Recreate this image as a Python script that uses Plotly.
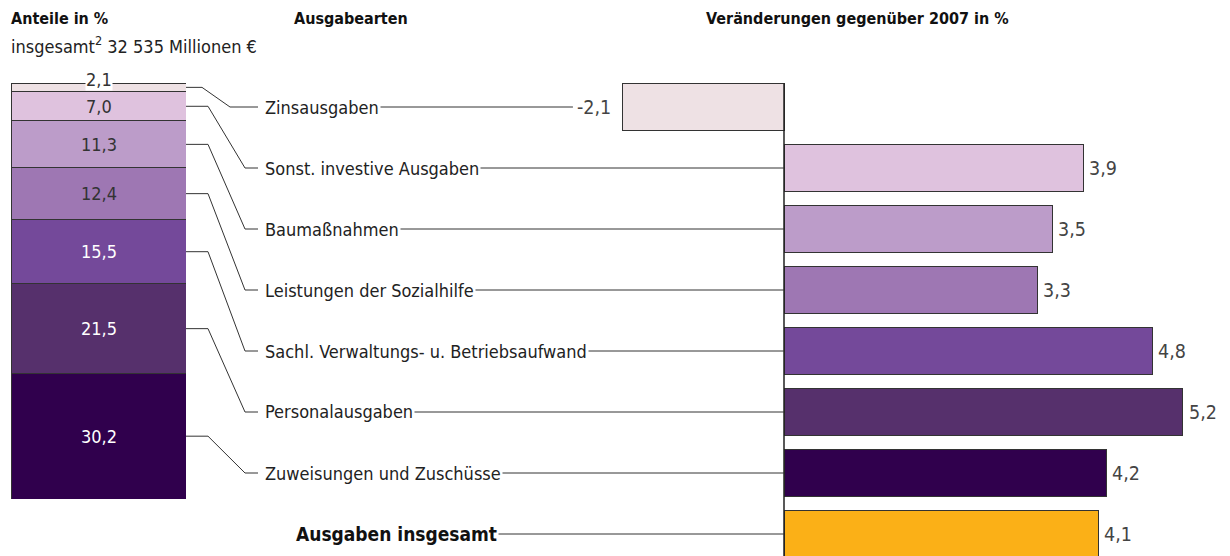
import plotly.graph_objects as go

# ---------------- data ----------------
categories = [
    "Zinsausgaben",
    "Sonst. investive Ausgaben",
    "Baumaßnahmen",
    "Leistungen der Sozialhilfe",
    "Sachl. Verwaltungs- u. Betriebsaufwand",
    "Personalausgaben",
    "Zuweisungen und Zuschüsse",
]
shares = [2.1, 7.0, 11.3, 12.4, 15.5, 21.5, 30.2]          # Anteile in %
changes = [-2.1, 3.9, 3.5, 3.3, 4.8, 5.2, 4.2]           # Veränderung ggü. 2007 in %
total_label = "Ausgaben insgesamt"
total_change = 4.1

seg_colors = ["#EEE1E4", "#DFC2DE", "#BC9CC9", "#9E77B3", "#74499A", "#56306C", "#30004D"]
total_color = "#FBB017"
share_text_colors = ["#333333", "#333333", "#333333", "#333333", "#FFFFFF", "#FFFFFF", "#FFFFFF"]

title_left = "<b>Anteile in %</b>"
subtitle_left = "insgesamt<sup>2</sup> 32 535 Millionen €"
title_mid = "<b>Ausgabearten</b>"
title_right = "<b>Veränderungen gegenüber 2007 in %</b>"


def fmt(v):
    return f"{v:.1f}".replace(".", ",")


# ---------------- layout constants (pixels) ----------------
W, H = 1230, 556
FONT = "Liberation Sans Narrow, Arial Narrow, DejaVu Sans Condensed, sans-serif"
LINE = "#333333"
TXT = "#222222"


def px(x):
    return x / W


def py(y):
    return 1 - y / H


BAR_L, BAR_R, BAR_T, BAR_B = 11, 186, 83, 499
ROW_TOP, ROW_H = 76.5, 61
X_DOM_L = 560
ZERO_PX, UNIT_PX = 784, 76.7
BAR_W = 0.77
LABEL_X = 263

x_range = [(X_DOM_L - ZERO_PX) / UNIT_PX, (W - ZERO_PX) / UNIT_PX]
y_bottom_idx = (H - ROW_TOP) / ROW_H - 0.5

fig = go.Figure()

# stacked share bar (bottom segment first)
for cat, s, c in reversed(list(zip(categories, shares, seg_colors))):
    fig.add_trace(go.Bar(
        x=[0], y=[s], width=1, name=cat,
        marker=dict(color=c, line=dict(color=LINE, width=1)),
        xaxis="x", yaxis="y", hoverinfo="skip", showlegend=False,
    ))

# change bars
all_cats = categories + [total_label]
all_vals = changes + [total_change]
all_cols = seg_colors + [total_color]
fig.add_trace(go.Bar(
    y=all_cats, x=all_vals, orientation="h", width=BAR_W,
    marker=dict(color=all_cols, line=dict(color=LINE, width=1)),
    xaxis="x2", yaxis="y2", showlegend=False, hoverinfo="skip",
))

shapes = []
annotations = []

# zero line of change chart
shapes.append(dict(type="line", xref="x2", yref="y2", x0=0, x1=0,
                   y0=-BAR_W / 2, y1=y_bottom_idx,
                   line=dict(color="#222222", width=1.5), layer="above"))

# connectors and labels
cum = 0.0
for i, (cat, s) in enumerate(zip(categories, shares)):
    y_att = BAR_T + (cum + s / 2) / 100 * (BAR_B - BAR_T)
    cum += s
    y_row = ROW_TOP + (i + 0.5) * ROW_H
    bend, diag = (202, 230) if i == 0 else (208, 245)
    path = (f"M{px(BAR_R)},{py(y_att)} L{px(bend)},{py(y_att)} "
            f"L{px(diag)},{py(y_row)} L{px(LABEL_X - 5)},{py(y_row)}")
    shapes.append(dict(type="path", path=path, xref="paper", yref="paper",
                       line=dict(color=LINE, width=1)))
    v = changes[i]
    end_px = ZERO_PX if v >= 0 else ZERO_PX + v * UNIT_PX - 50
    shapes.append(dict(type="line", xref="paper", yref="paper",
                       x0=px(LABEL_X + 40), x1=px(end_px), y0=py(y_row), y1=py(y_row),
                       line=dict(color=LINE, width=1)))
    annotations.append(dict(text=cat, xref="paper", yref="paper", x=px(LABEL_X), y=py(y_row),
                            xanchor="left", yanchor="middle", showarrow=False,
                            bgcolor="white", borderpad=1,
                            font=dict(family=FONT, size=18, color=TXT)))

# total row
y_row = ROW_TOP + (len(categories) + 0.5) * ROW_H
shapes.append(dict(type="line", xref="paper", yref="paper",
                   x0=px(340), x1=px(ZERO_PX), y0=py(y_row), y1=py(y_row),
                   line=dict(color=LINE, width=1)))
annotations.append(dict(text=f"<b>{total_label}</b>", xref="paper", yref="paper", x=px(294), y=py(y_row),
                        xanchor="left", yanchor="middle", showarrow=False,
                        bgcolor="white", borderpad=1,
                        font=dict(family=FONT, size=19, color="#111111")))

# value labels of change bars
for cat, v in zip(all_cats, all_vals):
    annotations.append(dict(text=fmt(v), xref="x2", yref="y2", x=v, y=cat,
                            xanchor="left" if v >= 0 else "right", yanchor="middle",
                            xshift=4 if v >= 0 else -10, showarrow=False,
                            font=dict(family=FONT, size=19.5, color="#444444")))

# share labels in stacked bar
cum = 0.0
for i, (s, tc) in enumerate(zip(shares, share_text_colors)):
    centre = 100 - (cum + s / 2)
    cum += s
    if i == 0:
        annotations.append(dict(text=fmt(s), xref="x", yref="y", x=0, y=100, yshift=3,
                                xanchor="center", yanchor="middle", showarrow=False,
                                bgcolor="white", borderpad=0,
                                font=dict(family=FONT, size=18, color="#333333")))
    else:
        annotations.append(dict(text=fmt(s), xref="x", yref="y", x=0, y=centre,
                                xanchor="center", yanchor="middle", showarrow=False,
                                font=dict(family=FONT, size=18, color=tc)))

# headers
annotations += [
    dict(text=title_left, xref="paper", yref="paper", x=px(9), y=py(18), xanchor="left",
         yanchor="middle", showarrow=False, font=dict(family=FONT, size=16, color="#111111")),
    dict(text=subtitle_left, xref="paper", yref="paper", x=px(9), y=py(45), xanchor="left",
         yanchor="middle", showarrow=False, font=dict(family=FONT, size=18, color=TXT)),
    dict(text=title_mid, xref="paper", yref="paper", x=px(292), y=py(18), xanchor="left",
         yanchor="middle", showarrow=False, font=dict(family=FONT, size=16, color="#111111")),
    dict(text=title_right, xref="paper", yref="paper", x=px(704), y=py(18), xanchor="left",
         yanchor="middle", showarrow=False, font=dict(family=FONT, size=16, color="#111111")),
]

fig.update_layout(
    width=W, height=H, margin=dict(l=0, r=0, t=0, b=0),
    barmode="stack", plot_bgcolor="white", paper_bgcolor="white", showlegend=False,
    font=dict(family=FONT),
    xaxis=dict(domain=[px(BAR_L), px(BAR_R)], range=[-0.5, 0.5], visible=False, fixedrange=True),
    yaxis=dict(domain=[py(BAR_B), py(BAR_T)], range=[0, 100], visible=False, fixedrange=True),
    xaxis2=dict(domain=[px(X_DOM_L), 1], range=x_range, visible=False, anchor="y2", fixedrange=True),
    yaxis2=dict(domain=[0, py(ROW_TOP)], range=[y_bottom_idx, -0.5], type="category",
                categoryarray=all_cats, categoryorder="array", visible=False, anchor="x2",
                fixedrange=True),
    shapes=shapes, annotations=annotations,
)

fig.write_html("out.html", config={"displayModeBar": False},
               post_script="document.body.style.margin='0';")
